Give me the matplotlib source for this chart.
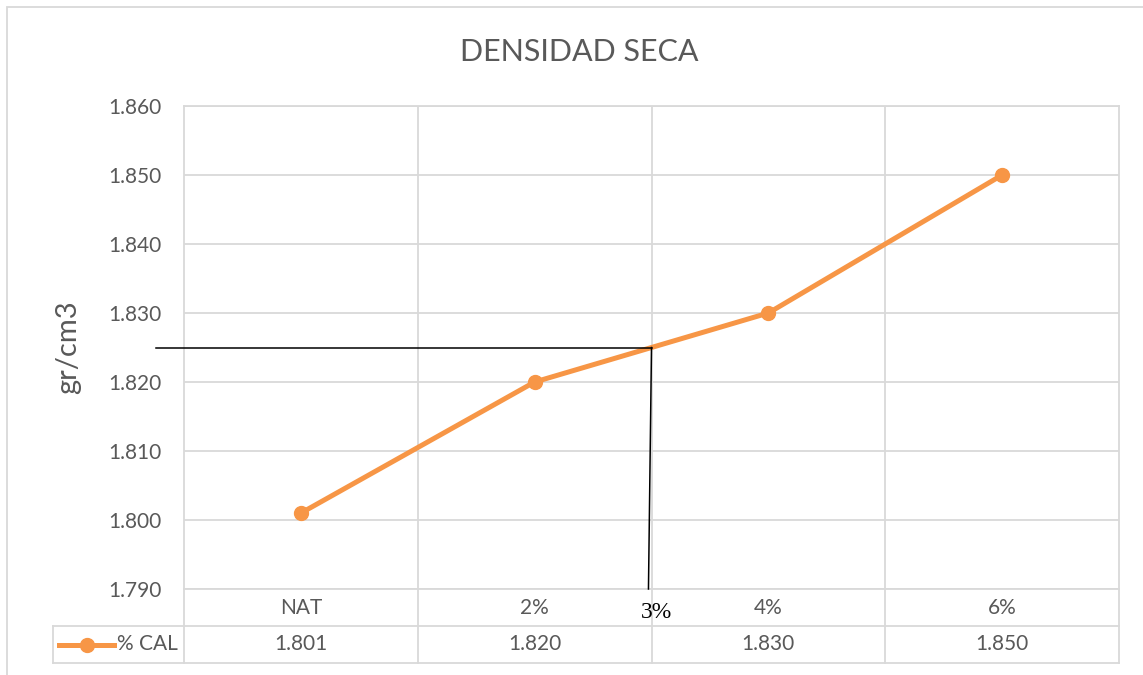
"""Densidad seca vs % cal, Excel-style line chart with data table."""
import matplotlib.pyplot as plt
from matplotlib.lines import Line2D
from matplotlib.patches import Rectangle

categories = ["NAT", "2%", "4%", "6%"]
densidad = [1.801, 1.820, 1.830, 1.850]
value_labels = ["1.801", "1.820", "1.830", "1.850"]
y_ticks = [1.79, 1.80, 1.81, 1.82, 1.83, 1.84, 1.85, 1.86]
# interpolated reading at 3% cal
ref_x = 1.5
ref_y = 1.825

ORANGE = "#F79646"
GRID = "#D9D9D9"
TEXT = "#595959"
plt.rcParams["font.family"] = ["Lato", "DejaVu Sans"]

W, H = 1143, 675
fig = plt.figure(figsize=(W / 100, H / 100), dpi=100)


def fx(px):
    return px / W


def fy(py):
    return 1 - py / H


left, right, top, bottom = 184, 1119, 106, 589
ax = fig.add_axes([fx(left), fy(bottom), fx(right) - fx(left), fy(top) - fy(bottom)])

x = list(range(len(categories)))
ax.plot(x, densidad, color=ORANGE, lw=3.6, marker="o", ms=10, zorder=3)

ax.set_xlim(-0.5, len(categories) - 0.5)
ax.set_ylim(1.79, 1.86)
ax.set_yticks(y_ticks)
ax.set_yticklabels([f"{v:.3f}" for v in y_ticks], color=TEXT, fontsize=15)
ax.set_xticks([i + 0.5 for i in range(len(categories) - 1)])
ax.set_xticklabels([])
ax.tick_params(axis="both", length=0)
ax.tick_params(axis="y", pad=16)
ax.grid(True, color=GRID, lw=1.3)
for s in ax.spines.values():
    s.set_color(GRID)
    s.set_linewidth(1.3)

# reference lines for 3%
ax.plot([-0.62, ref_x], [ref_y, ref_y], color="black", lw=1.1, clip_on=False, zorder=4)
ax.plot([ref_x, ref_x - 0.013], [ref_y, 1.79], color="black", lw=1.1, clip_on=False, zorder=4)

fig.text(fx(579), fy(52), "DENSIDAD SECA", ha="center", va="center", color=TEXT, fontsize=22)
ax.set_ylabel("gr/cm3", color=TEXT, fontsize=21, labelpad=20)

# data table under the axes
row1_bot, row2_bot, leg_left = 626, 663, 53
col_w = (right - left) / len(categories)
lines = [
    ((left, left), (bottom, row2_bot)),
    ((right, right), (bottom, row2_bot)),
    ((leg_left, right), (row1_bot, row1_bot)),
    ((leg_left, right), (row2_bot, row2_bot)),
    ((leg_left, leg_left), (row1_bot, row2_bot)),
]
for i in range(1, len(categories)):
    xc = left + i * col_w
    lines.append(((xc, xc), (bottom, row2_bot)))
for (x0, x1), (y0, y1) in lines:
    fig.add_artist(Line2D([fx(x0), fx(x1)], [fy(y0), fy(y1)], color=GRID, lw=1.3))

for i, (cat, val) in enumerate(zip(categories, value_labels)):
    xc = left + (i + 0.5) * col_w
    fig.text(fx(xc), fy((bottom + row1_bot) / 2), cat, ha="center", va="center",
             color=TEXT, fontsize=15)
    fig.text(fx(xc), fy((row1_bot + row2_bot) / 2), val, ha="center", va="center",
             color=TEXT, fontsize=15)

# legend key in table
ky = fy((row1_bot + row2_bot) / 2)
fig.add_artist(Line2D([fx(59), fx(114)], [ky, ky], color=ORANGE, lw=3.6))
fig.add_artist(Line2D([fx(87)], [ky], color=ORANGE, marker="o", ms=10, lw=0))
fig.text(fx(117), ky, "% CAL", ha="left", va="center", color=TEXT, fontsize=15)

fig.text(fx(656), fy(613), "3%", ha="center", va="center", color="black",
         fontsize=17, family="Liberation Serif")

# chart outer border
fig.add_artist(Rectangle((fx(7), fy(H + 10)), fx(W + 20), fy(7) - fy(H + 10),
                         fill=False, edgecolor=GRID, lw=1.3))

fig.savefig("out.png", dpi=100)
